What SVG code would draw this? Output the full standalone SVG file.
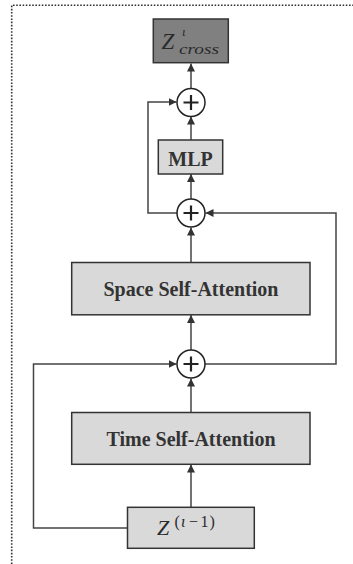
<svg xmlns="http://www.w3.org/2000/svg" width="353" height="564" viewBox="0 0 353 564">
<style>
.box{stroke:#333;stroke-width:1.5}
.light{fill:#d9d9d9}
.dark{fill:#808080}
.lbl{font-family:"Liberation Serif",serif;font-weight:bold;font-size:20px;fill:#333;text-anchor:middle}
.math{font-family:"Liberation Serif",serif;font-style:italic;fill:#2a2a2a}
.up{font-style:normal}
.conn{fill:none;stroke:#444;stroke-width:1.5}
.plus{fill:#fff;stroke:#222;stroke-width:1.5}
.pm{stroke:#222;stroke-width:2.2}
</style>
<defs>
<marker id="ah" viewBox="0 0 10 10" refX="10" refY="5" markerWidth="8" markerHeight="8" markerUnits="userSpaceOnUse" orient="auto">
<path d="M0,0 L10,5 L0,10 z" fill="#333"/>
</marker>
</defs>
<path d="M11.7,564 V5.3 H353" fill="none" stroke="#333" stroke-width="1.6" stroke-dasharray="1.6 1.6"/>
<g id="connectors">
<path class="conn" d="M191,507 V464.5" marker-end="url(#ah)"/>
<path class="conn" d="M191,412.5 V378.5" marker-end="url(#ah)"/>
<path class="conn" d="M191,350 V315" marker-end="url(#ah)"/>
<path class="conn" d="M191,262.5 V227.5" marker-end="url(#ah)"/>
<path class="conn" d="M191,199.5 V174" marker-end="url(#ah)"/>
<path class="conn" d="M191,140 V116.5" marker-end="url(#ah)"/>
<path class="conn" d="M191,88.5 V63.5" marker-end="url(#ah)"/>
<path class="conn" d="M127.5,528 H33.5 V364 H176.5" marker-end="url(#ah)"/>
<path class="conn" d="M205,364 H336 V213 H205.5" marker-end="url(#ah)"/>
<path class="conn" d="M177,213 H148 V102 H176.5" marker-end="url(#ah)"/>
</g>
<g id="z-cross">
<rect class="box dark" x="153.3" y="19" width="75" height="43.7"/>
<text class="math" x="161.5" y="48.5" font-size="23">Z</text>
<text class="math" x="182" y="36" font-size="13">ι</text>
<text class="math" x="179" y="54" font-size="15" textLength="40" lengthAdjust="spacingAndGlyphs">cross</text>
</g>
<g id="plus-1">
<circle class="plus" cx="191" cy="102.5" r="14"/>
<path class="pm" d="M183.5,102.5 H198.5 M191,95 V110"/>
</g>
<g id="mlp">
<rect class="box light" x="158.3" y="140" width="64.4" height="34"/>
<text class="lbl" x="190.5" y="165.5">MLP</text>
</g>
<g id="plus-2">
<circle class="plus" cx="191" cy="213" r="14"/>
<path class="pm" d="M183.5,213 H198.5 M191,205.5 V220.5"/>
</g>
<g id="space-attn">
<rect class="box light" x="71.7" y="262.5" width="238.3" height="52.3"/>
<text class="lbl" x="191" y="296">Space Self-Attention</text>
</g>
<g id="plus-3">
<circle class="plus" cx="191" cy="364" r="14"/>
<path class="pm" d="M183.5,364 H198.5 M191,356.5 V371.5"/>
</g>
<g id="time-attn">
<rect class="box light" x="71.7" y="412.5" width="238.3" height="51.8"/>
<text class="lbl" x="191" y="445.5">Time Self-Attention</text>
</g>
<g id="z-prev">
<rect class="box light" x="127.5" y="507.3" width="126.8" height="41"/>
<text class="math" x="157" y="534.5" font-size="22">Z</text>
<text class="math" y="527" font-size="16"><tspan class="up" x="174.5">(</tspan><tspan x="181">ι</tspan><tspan class="up" x="189">−</tspan><tspan class="up" x="200.5">1</tspan><tspan class="up" x="209.5">)</tspan></text>
</g>
</svg>
